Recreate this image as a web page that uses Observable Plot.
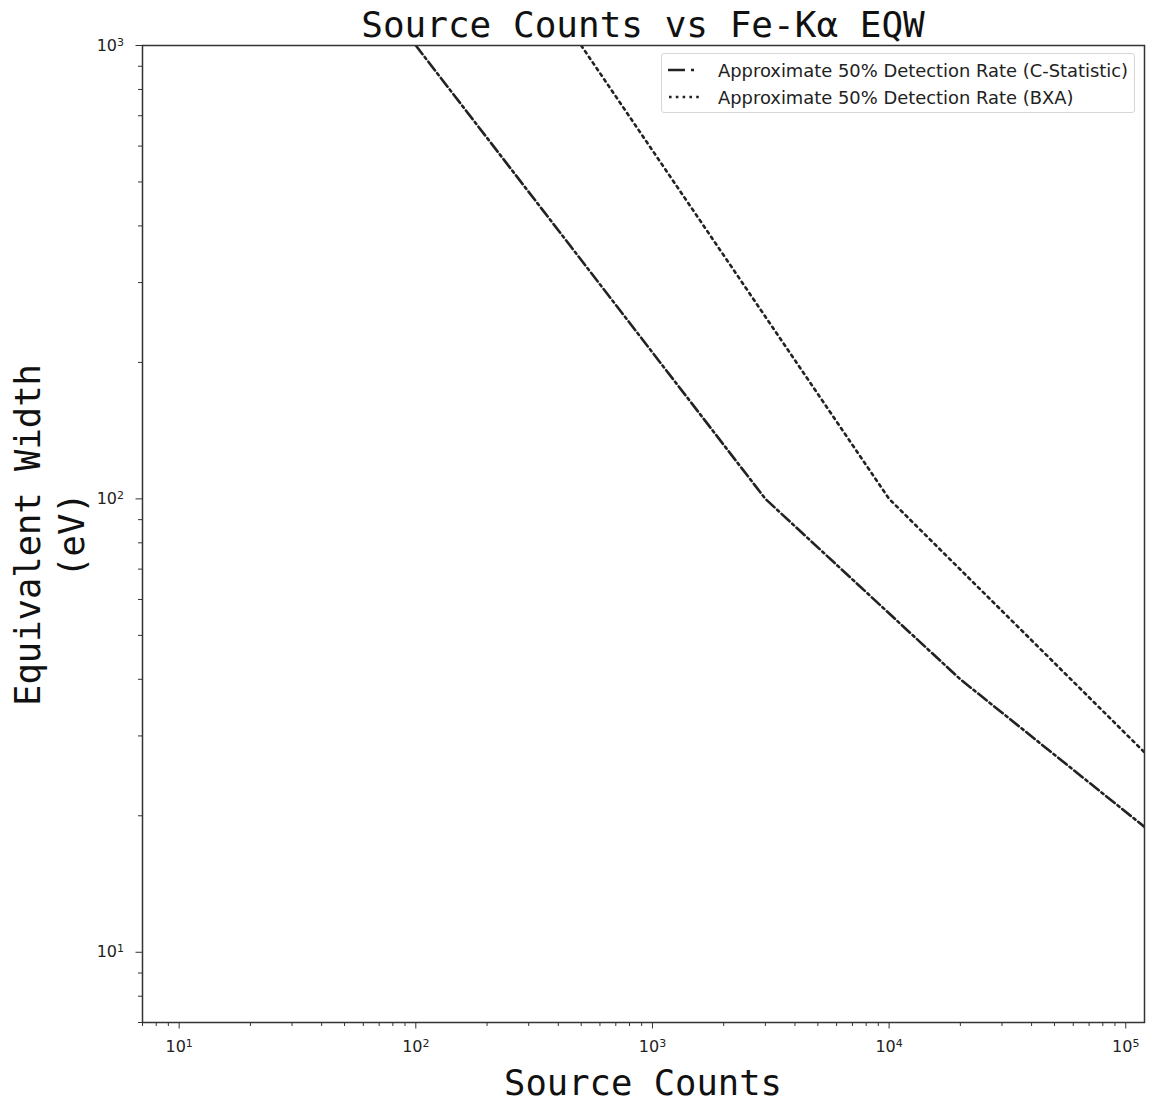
<!DOCTYPE html>
<html>
<head>
<meta charset="utf-8">
<script src="https://cdn.jsdelivr.net/npm/d3@7"></script>
<script src="https://cdn.jsdelivr.net/npm/@observablehq/plot@0.6"></script>
<style>
  body { margin: 0; background: #fff; }
  #wrap { position: relative; width: 1151px; height: 1101px; }
  #title { position: absolute; left: 142px; width: 1002px; top: 5px; text-align: center;
           font-family: "DejaVu Sans Mono", monospace; font-size: 36px; color: #111; line-height: 40px; }
  #xlabel { position: absolute; left: 142px; width: 1002px; top: 1063px; text-align: center;
           font-family: "DejaVu Sans Mono", monospace; font-size: 35.5px; color: #111; line-height: 40px; }
  #ylabel { position: absolute; left: 50px; top: 535px; transform: translate(-50%, -50%) rotate(-90deg);
           font-family: "DejaVu Sans Mono", monospace; font-size: 35.5px; color: #111; line-height: 44px;
           text-align: center; white-space: nowrap; }
  #legend { position: absolute; left: 661px; top: 53px; width: 472px; height: 58px;
            border: 1px solid #d6d6d6; border-radius: 3px; background: #fff;
            font-family: "DejaVu Sans", sans-serif; font-size: 17.9px; color: #222; }
  .row { position: absolute; left: 6px; height: 22px; display: flex; align-items: center; white-space: nowrap; }
  .row svg { margin-right: 18px; }
  svg.plot { position: absolute; left: 0; top: 0; }
</style>
</head>
<body>
<div id="wrap">
  <div id="chart"></div>
  <div id="title">Source Counts vs Fe-Kα EQW</div>
  <div id="xlabel">Source Counts</div>
  <div id="ylabel">Equivalent Width<br>(eV)</div>
  <div id="legend">
    <div class="row" style="top:5px"><svg width="32" height="6"><line x1="0" y1="3" x2="32" y2="3" stroke="#222" stroke-width="2.6" stroke-dasharray="17,6,3,6"/></svg>Approximate 50% Detection Rate (C-Statistic)</div>
    <div class="row" style="top:32px"><svg width="32" height="6"><line x1="1" y1="3" x2="32" y2="3" stroke="#222" stroke-width="2.6" stroke-dasharray="2.6,4.2"/></svg>Approximate 50% Detection Rate (BXA)</div>
  </div>
</div>
<script>
// C-Statistic 50% detection curve
const cstatCounts = [100, 3000, 20000, 120000];
const cstatEqw    = [1000, 100, 40, 18.9];
// BXA 50% detection curve
const bxaCounts = [500, 10000, 120000];
const bxaEqw    = [1000, 100, 27.6];

const xMajor = [10, 100, 1000, 10000, 100000];
const xMajorExp = ["1", "2", "3", "4", "5"];
const yMajor = [10, 100, 1000];
const yMajorExp = ["1", "2", "3"];

const xMinor = [];
for (let d = 1; d <= 100000; d *= 10) for (let k = 2; k <= 9; k++) { const v = d * k; if (v >= 7 && v <= 120000) xMinor.push(v); }
const yMinor = [];
for (let d = 1; d <= 100; d *= 10) for (let k = 2; k <= 9; k++) { const v = d * k; if (v >= 7 && v <= 1000) yMinor.push(v); }

const cstat = cstatCounts.map((c, i) => ({c, e: cstatEqw[i]}));
const bxa = bxaCounts.map((c, i) => ({c, e: bxaEqw[i]}));

const fmt = (vals, exps) => v => "10^" + exps[vals.indexOf(v)];

const plot = Plot.plot({
  width: 1151, height: 1101,
  marginTop: 45, marginLeft: 142, marginRight: 7, marginBottom: 79,
  style: {fontFamily: "DejaVu Sans, sans-serif", fontSize: "16px", color: "#222", background: "#fff"},
  x: {type: "log", domain: [7, 120000], label: null},
  y: {type: "log", domain: [7, 1000], label: null},
  marks: [
    Plot.axisX(xMinor, {tickSize: 4, tickFormat: () => "", stroke: "#333", label: null}),
    Plot.axisX(xMajor, {tickSize: 6.5, tickPadding: 12, tickFormat: fmt(xMajor, xMajorExp), label: null, stroke: "#333", fill: "#222", fontSize: 16}),
    Plot.axisY(yMinor, {tickSize: 4, tickFormat: () => "", stroke: "#333", label: null}),
    Plot.axisY(yMajor, {tickSize: 6.5, tickPadding: 12, tickFormat: fmt(yMajor, yMajorExp), label: null, stroke: "#333", fill: "#222", fontSize: 16}),
    Plot.line(cstat, {x: "c", y: "e", stroke: "#222", strokeWidth: 2.6, strokeDasharray: "11,3.5,2.5,3.5", clip: true}),
    Plot.line(bxa, {x: "c", y: "e", stroke: "#222", strokeWidth: 2.6, strokeDasharray: "2.6,4.2", clip: true}),
    Plot.frame({stroke: "#333", strokeWidth: 1.5})
  ]
});
plot.classList.add("plot");
// render "10^n" tick labels as 10 with a superscript exponent
d3.select(plot).selectAll("text").each(function () {
  const t = this.textContent;
  const m = /^10\^(\d)$/.exec(t);
  if (!m) return;
  const sel = d3.select(this);
  sel.text("");
  sel.append("tspan").text("10");
  sel.append("tspan").attr("dy", "-0.45em").attr("font-size", "11px").text(m[1]);
});
document.getElementById("chart").appendChild(plot);
</script>
</body>
</html>
